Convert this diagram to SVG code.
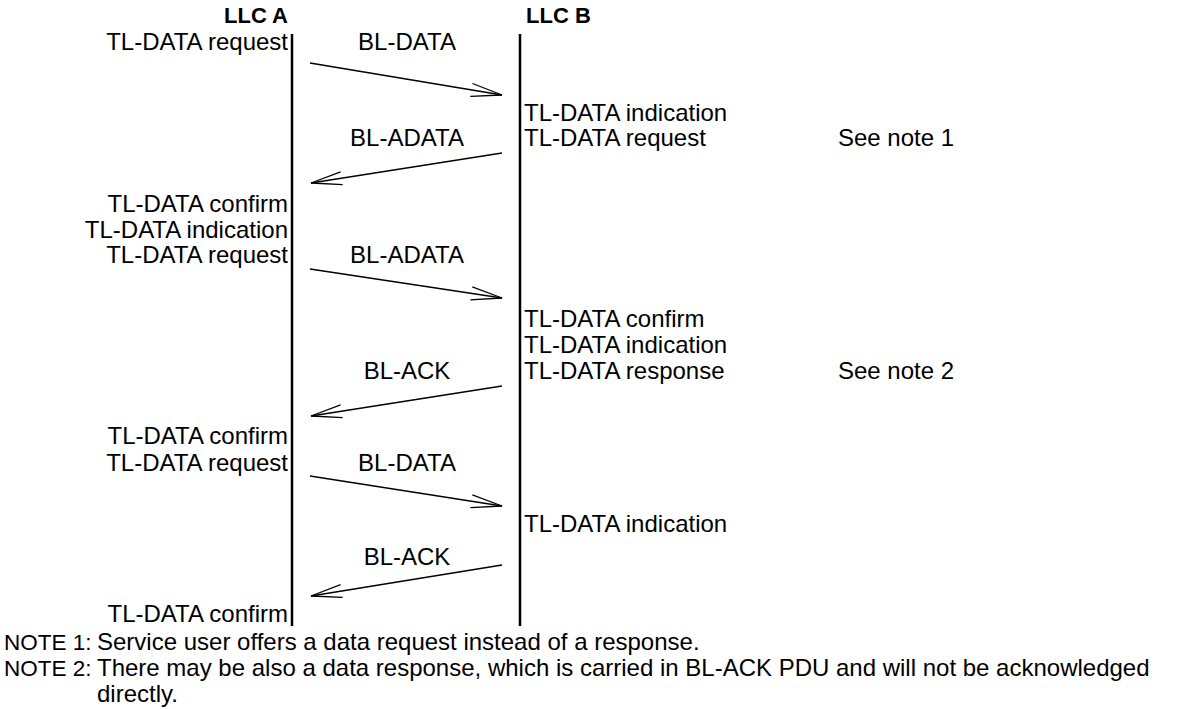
<svg xmlns="http://www.w3.org/2000/svg" width="1184" height="709" viewBox="0 0 1184 709">
<style>
text{font-family:"Liberation Sans",Arial,sans-serif;font-size:24px;fill:#000}
.b{font-weight:bold;font-size:22px}
.r{text-anchor:end}
.m{text-anchor:middle}
.n{font-size:22.5px}
.life{stroke:#000;stroke-width:2.5}
.msg{stroke:#000;stroke-width:1.3;fill:none}
</style>
<defs>
<marker id="ah" markerUnits="userSpaceOnUse" markerWidth="40" markerHeight="20" viewBox="-32 -10 34 20" refX="0" refY="0" orient="auto">
<path d="M-31,-6.5 L0,0 L-31,6.5" fill="none" stroke="#000" stroke-width="1.3"/>
</marker>
</defs>
<rect width="1184" height="709" fill="#fff"/>
<g id="llcA">
<text class="b r" x="288" y="23">LLC A</text>
<line class="life" x1="292" y1="34" x2="292" y2="626"/>
<text class="r" x="288" y="50">TL-DATA request</text>
<text class="r" x="288" y="212">TL-DATA confirm</text>
<text class="r" x="288" y="238">TL-DATA indication</text>
<text class="r" x="288" y="263">TL-DATA request</text>
<text class="r" x="288" y="444">TL-DATA confirm</text>
<text class="r" x="288" y="471">TL-DATA request</text>
<text class="r" x="288" y="622">TL-DATA confirm</text>
</g>
<g id="llcB">
<text class="b" x="526" y="23">LLC B</text>
<line class="life" x1="520" y1="34" x2="520" y2="626"/>
<text x="524" y="121">TL-DATA indication</text>
<text x="524" y="146">TL-DATA request</text>
<text x="838" y="146">See note 1</text>
<text x="524" y="327">TL-DATA confirm</text>
<text x="524" y="353">TL-DATA indication</text>
<text x="524" y="379">TL-DATA response</text>
<text x="838" y="379">See note 2</text>
<text x="524" y="532">TL-DATA indication</text>
</g>
<g id="connectors">
<line class="msg" x1="310" y1="63" x2="502" y2="95" marker-end="url(#ah)"/>
<text class="m" x="407" y="50">BL-DATA</text>
<line class="msg" x1="502" y1="153" x2="311" y2="183" marker-end="url(#ah)"/>
<text class="m" x="407" y="146">BL-ADATA</text>
<line class="msg" x1="310" y1="269" x2="502" y2="298" marker-end="url(#ah)"/>
<text class="m" x="407" y="263">BL-ADATA</text>
<line class="msg" x1="502" y1="386" x2="311" y2="416" marker-end="url(#ah)"/>
<text class="m" x="407" y="379">BL-ACK</text>
<line class="msg" x1="310" y1="476" x2="502" y2="506" marker-end="url(#ah)"/>
<text class="m" x="407" y="471">BL-DATA</text>
<line class="msg" x1="502" y1="565" x2="311" y2="596" marker-end="url(#ah)"/>
<text class="m" x="407" y="565">BL-ACK</text>
</g>
<g id="notes">
<text class="n" x="4" y="650">NOTE 1:</text>
<text x="97" y="650">Service user offers a data request instead of a response.</text>
<text class="n" x="4" y="676">NOTE 2:</text>
<text x="97" y="676">There may be also a data response, which is carried in BL-ACK PDU and will not be acknowledged</text>
<text x="97" y="702">directly.</text>
</g>
</svg>
